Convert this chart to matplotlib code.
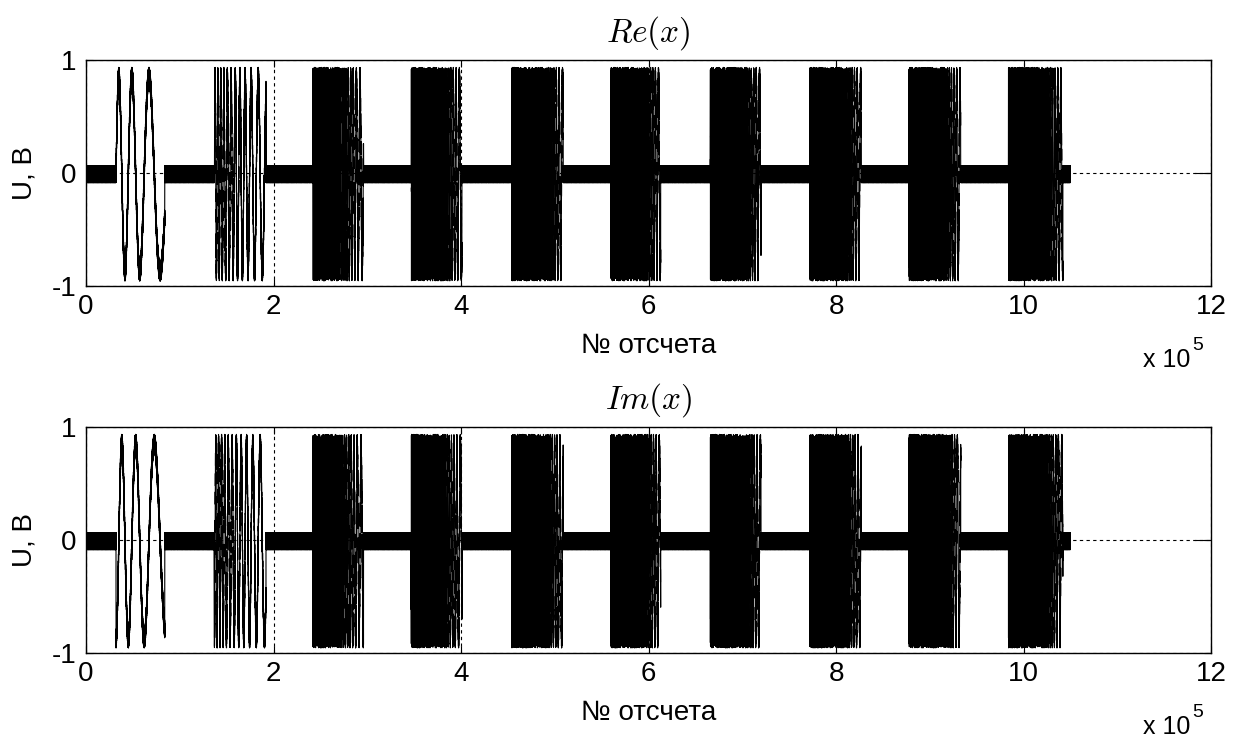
import numpy as np
import matplotlib
matplotlib.use("Agg")
import matplotlib.pyplot as plt

plt.rcParams['font.family'] = ['Liberation Sans', 'DejaVu Sans']
plt.rcParams['mathtext.fontset'] = 'cm'
plt.rcParams['agg.path.chunksize'] = 10000

# ---- data (sample numbers in units of 1e5) ----
burst_start = [0.32, 1.37, 2.42, 3.47, 4.54, 5.60, 6.66, 7.72, 8.78, 9.84]
burst_end   = [0.84, 1.92, 2.96, 4.01, 5.09, 6.13, 7.20, 8.27, 9.33, 10.42]
# instantaneous frequency at burst start / end (cycles per 1e5 samples)
freq_start  = [8.5, 36, 220, 420, 600, 600, 600, 600, 600, 600]
freq_end    = [3.5, 10, 20, 22, 24, 24, 24, 24, 24, 24]
burst_amp   = 0.87
noise_amp   = 0.075
noise_offset = -0.01
signal_len  = 10.50        # data stops here
zero_tail   = [11.83, 12.0]  # short zero segment at the end

x_ticks = [0, 2, 4, 6, 8, 10, 12]
y_ticks = [-1, 0, 1]
titles = [r'$Re(x)$', r'$Im(x)$']
xlabel = '№ отсчета'
ylabel = 'U, B'

# ---- build the complex signal from the burst parameters ----
step = 4
n = np.arange(0, int(signal_len * 1e5), step)
t = n / 1e5
phase = np.zeros_like(t)
env = np.zeros_like(t)
for s, e, f0, f1 in zip(burst_start, burst_end, freq_start, freq_end):
    m = (t >= s) & (t < e)
    u = (t[m] - s) / (e - s)
    finst = f0 * (f1 / f0) ** u
    dt = step / 1e5
    phase[m] = 2 * np.pi * np.cumsum(finst) * dt
    env[m] = burst_amp
k = np.arange(t.size)
ripple = noise_amp * np.sin(k * 2.17) + noise_offset
re = env * np.sin(phase) + ripple
im = -env * np.cos(phase) * (env > 0) + ripple
tz = np.array(zero_tail)
series = [re, im]

W, H = 1236, 740
fig = plt.figure(figsize=(W / 100, H / 100), dpi=100)
axes_px = [(86, 60, 1211, 286), (86, 427, 1211, 653)]

FS = 20
for i, (l, tp, r, b) in enumerate(axes_px):
    ax = fig.add_axes([l / W, 1 - b / H, (r - l) / W, (b - tp) / H])
    ax.plot(t * 1e5, series[i], color='black', lw=0.8, zorder=3)
    ax.plot(tz * 1e5, np.zeros_like(tz), color='black', lw=0.8, zorder=3)
    ax.set_xlim(0, 12e5)
    ax.set_ylim(-1, 1)
    ax.set_xticks([v * 1e5 for v in x_ticks])
    ax.set_xticklabels([str(v) for v in x_ticks])
    ax.set_yticks(y_ticks)
    ax.set_yticklabels([str(v) for v in y_ticks])
    ax.tick_params(direction='in', length=5, width=0.8, top=True, right=True,
                   labelsize=FS, colors='black')
    ax.tick_params(axis='x', pad=6)
    ax.tick_params(axis='y', pad=7)
    ax.grid(True, color='black', linestyle=(0, (3, 3)), linewidth=0.8, zorder=1)
    for sp in ax.spines.values():
        sp.set_linewidth(1.0)
    ax.set_title(titles[i], fontsize=24, pad=13)
    ax.set_xlabel(xlabel, fontsize=FS, labelpad=9)
    ax.set_ylabel(ylabel, fontsize=FS, labelpad=10)
    # MATLAB-style exponent label
    ax.annotate('x 10', xy=(1, 0), xycoords='axes fraction', xytext=(-21, -81),
                textcoords='offset pixels', fontsize=18, ha='right', va='baseline')
    ax.annotate('5', xy=(1, 0), xycoords='axes fraction', xytext=(-19, -64),
                textcoords='offset pixels', fontsize=14, ha='left', va='baseline')

fig.savefig('out.png', dpi=100)
